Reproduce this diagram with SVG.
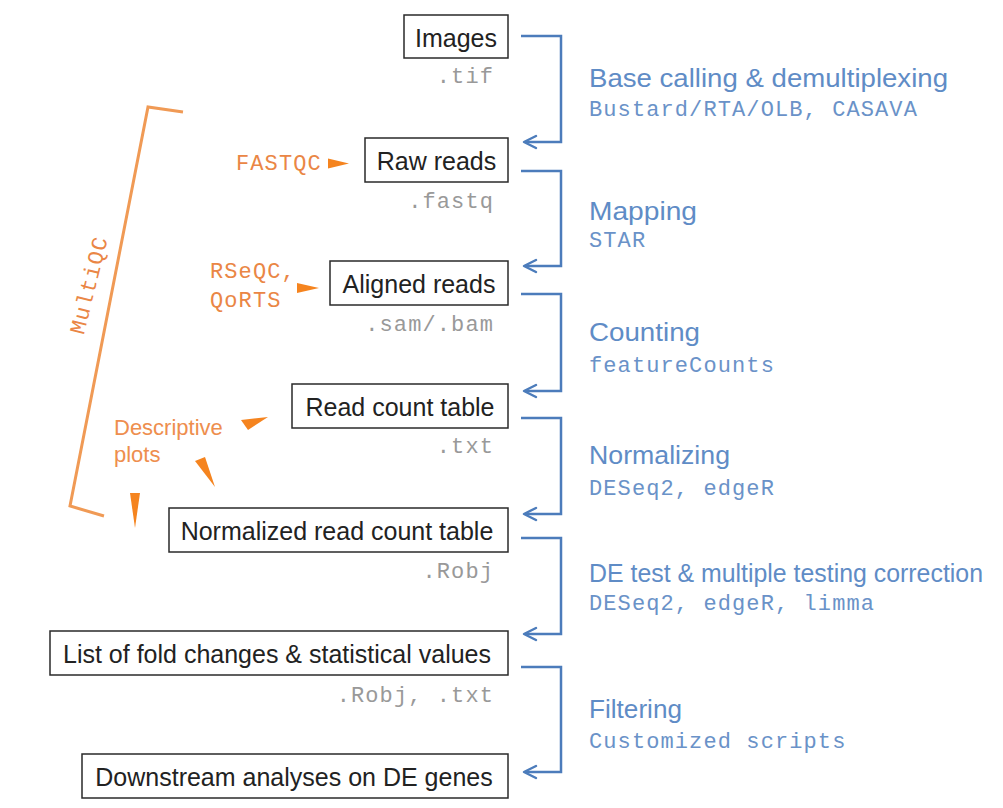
<svg xmlns="http://www.w3.org/2000/svg" width="1003" height="808" viewBox="0 0 1003 808">
<style>
.box{fill:#fff;stroke:#2a2a2a;stroke-width:1.5}
.bt{font-family:"Liberation Sans",Arial,sans-serif;font-size:25px;fill:#222;text-anchor:middle}
.ext{font-family:"Liberation Mono","Courier New",monospace;font-size:22px;letter-spacing:1.1px;fill:#999;text-anchor:end}
.head{font-family:"Liberation Sans",Arial,sans-serif;font-size:26.5px;fill:#5f8cc6}
.tool{font-family:"Liberation Mono","Courier New",monospace;font-size:22px;letter-spacing:1.1px;fill:#6a92c8}
.conn{fill:none;stroke:#4c7cbb;stroke-width:2.5;stroke-linejoin:miter}
.head2{fill:none;stroke:#4c7cbb;stroke-width:2.5;stroke-linecap:round;stroke-linejoin:round}
.otext{font-family:"Liberation Mono","Courier New",monospace;font-size:22px;letter-spacing:1.1px;fill:#ea8645}
.osans{font-family:"Liberation Sans",Arial,sans-serif;font-size:22px;fill:#ee8e4e}
.tri{fill:#f5841f}
.brk{fill:none;stroke:#f09a55;stroke-width:3;stroke-linejoin:miter}
</style>
<rect width="1003" height="808" fill="#fff"/>

<g id="connectors">
  <path class="conn" d="M521,36 H561 V142 H525"/>
  <path class="head2" d="M536,136 L524,142 L536,148"/>
  <path class="conn" d="M521,171 H561 V266 H525"/>
  <path class="head2" d="M536,260 L524,266 L536,272"/>
  <path class="conn" d="M521,294 H561 V391 H525"/>
  <path class="head2" d="M536,385 L524,391 L536,397"/>
  <path class="conn" d="M521,418 H561 V514 H525"/>
  <path class="head2" d="M536,508 L524,514 L536,520"/>
  <path class="conn" d="M521,538 H561 V634 H525"/>
  <path class="head2" d="M536,628 L524,634 L536,640"/>
  <path class="conn" d="M521,667 H561 V772 H525"/>
  <path class="head2" d="M536,766 L524,772 L536,778"/>
  <polygon class="tri" points="328,158.5 349,163.5 328,168.5"/>
  <polygon class="tri" points="297,283 319,288 297,293"/>
  <polygon class="tri" points="241,420 268,417 248,430"/>
  <polygon class="tri" points="195,461 205,457 215,487"/>
  <polygon class="tri" points="130,493 140,493 135,528"/>
</g>

<g id="multiqc">
  <path class="brk" d="M183,112 L148,107 L70,506 L104,516"/>
  <text class="otext" text-anchor="middle" transform="translate(89,285) rotate(-76)" x="0" y="7">MultiQC</text>
</g>

<g id="node-images">
  <rect class="box" x="404" y="15" width="104" height="43"/>
  <text class="bt" x="456" y="47">Images</text>
  <text class="ext" x="494" y="83">.tif</text>
</g>
<g id="node-raw">
  <rect class="box" x="365" y="138" width="143" height="44"/>
  <text class="bt" x="436.5" y="170">Raw reads</text>
  <text class="ext" x="494" y="208">.fastq</text>
</g>
<g id="node-aligned">
  <rect class="box" x="330" y="261" width="178" height="44"/>
  <text class="bt" x="419" y="293">Aligned reads</text>
  <text class="ext" x="494" y="331">.sam/.bam</text>
</g>
<g id="node-count">
  <rect class="box" x="292" y="384" width="216" height="44"/>
  <text class="bt" x="400" y="416">Read count table</text>
  <text class="ext" x="494" y="453">.txt</text>
</g>
<g id="node-normalized">
  <rect class="box" x="169" y="508" width="339" height="44"/>
  <text class="bt" x="337" y="540">Normalized read count table</text>
  <text class="ext" x="494" y="578">.Robj</text>
</g>
<g id="node-list">
  <rect class="box" x="50" y="631" width="458" height="44"/>
  <text class="bt" x="277" y="663">List of fold changes &amp; statistical values</text>
  <text class="ext" x="494" y="702">.Robj, .txt</text>
</g>
<g id="node-downstream">
  <rect class="box" x="82" y="754" width="426" height="44"/>
  <text class="bt" x="294" y="786">Downstream analyses on DE genes</text>
</g>

<g id="qc-labels">
  <text class="otext" x="236" y="170">FASTQC</text>
  <text class="otext" x="210" y="278">RSeQC,</text>
  <text class="otext" x="210" y="307">QoRTS</text>
  <text class="osans" x="114" y="435">Descriptive</text>
  <text class="osans" x="114" y="462">plots</text>
</g>

<g id="step-labels">
  <text class="head" x="589" y="87" textLength="359" lengthAdjust="spacingAndGlyphs">Base calling &amp; demultiplexing</text>
  <text class="tool" x="589" y="116">Bustard/RTA/OLB, CASAVA</text>
  <text class="head" x="589" y="220" textLength="108" lengthAdjust="spacingAndGlyphs">Mapping</text>
  <text class="tool" x="589" y="247">STAR</text>
  <text class="head" x="589" y="341" textLength="111" lengthAdjust="spacingAndGlyphs">Counting</text>
  <text class="tool" x="589" y="372">featureCounts</text>
  <text class="head" x="589" y="464" textLength="141" lengthAdjust="spacingAndGlyphs">Normalizing</text>
  <text class="tool" x="589" y="495">DESeq2, edgeR</text>
  <text class="head" x="589" y="582" style="font-size:25px" textLength="394" lengthAdjust="spacingAndGlyphs">DE test &amp; multiple testing correction</text>
  <text class="tool" x="589" y="610">DESeq2, edgeR, limma</text>
  <text class="head" x="589" y="718" textLength="93" lengthAdjust="spacingAndGlyphs">Filtering</text>
  <text class="tool" x="589" y="748">Customized scripts</text>
</g>
</svg>
